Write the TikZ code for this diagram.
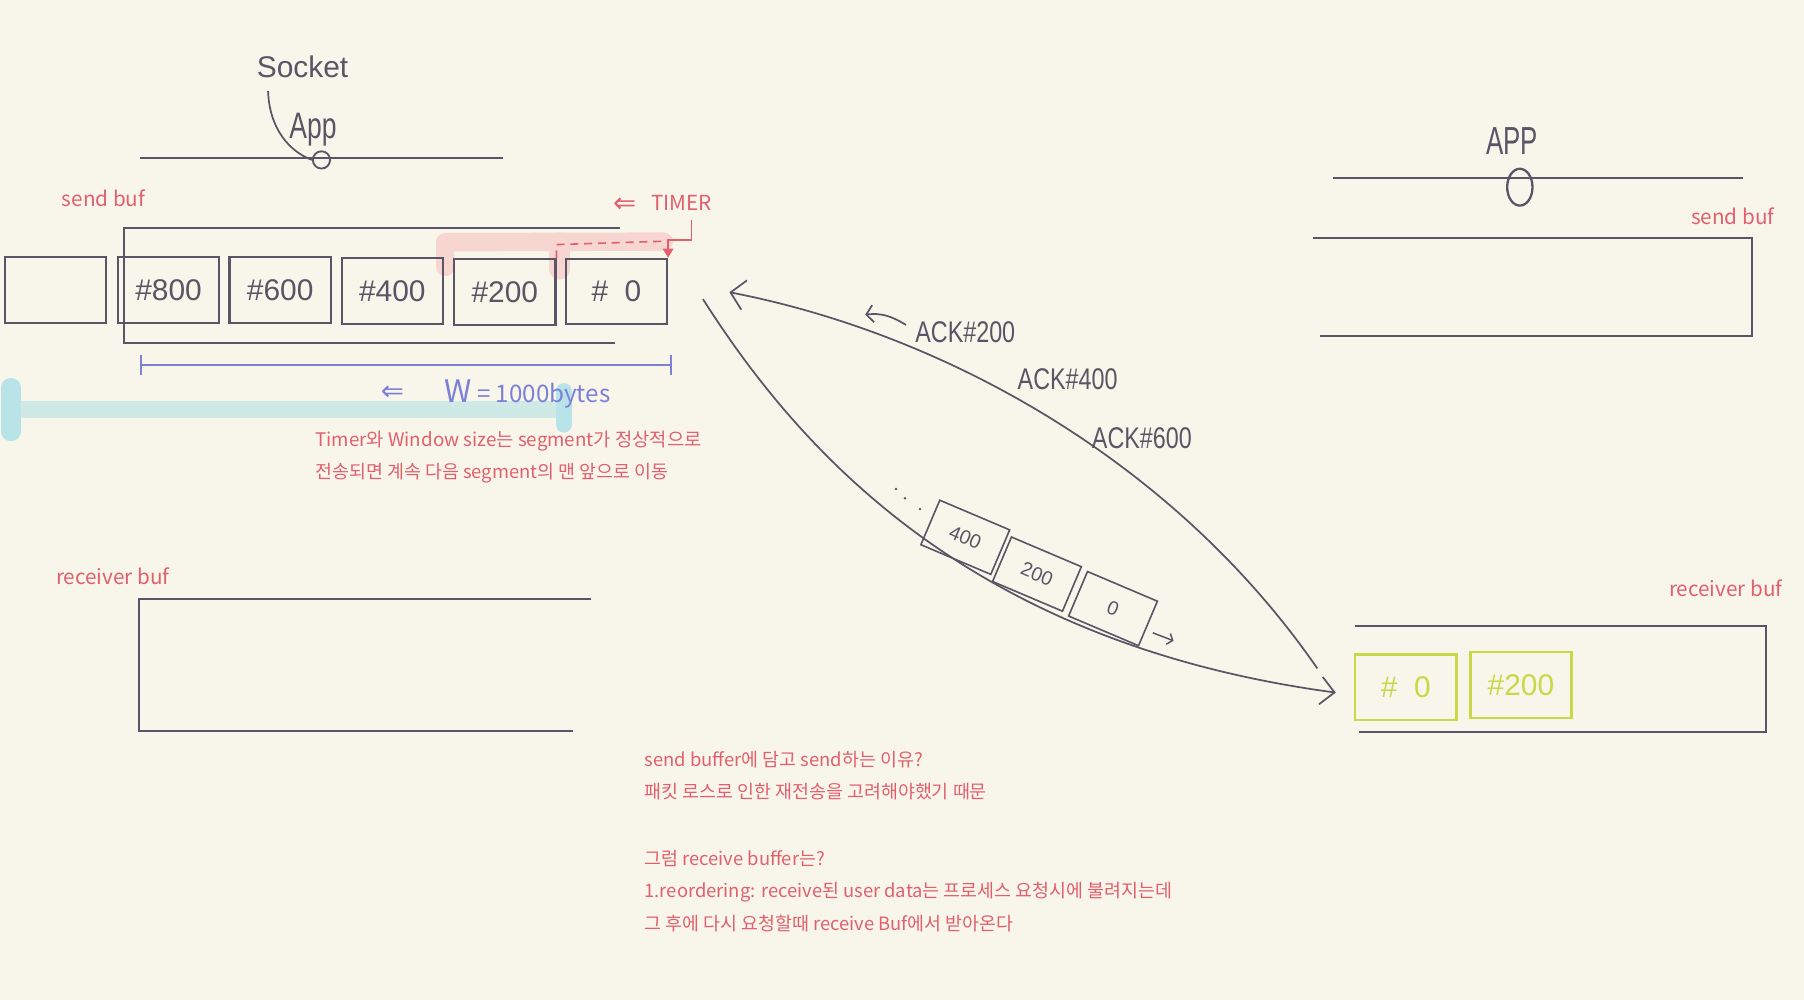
\documentclass[tikz,border=0pt]{standalone}
\usepackage{fontspec}
\setmainfont{Liberation Sans}
\newfontfamily\kr{Noto Sans CJK KR}
\newfontfamily\hand{Liberation Sans}
\newfontfamily\sym{DejaVu Sans}
\usetikzlibrary{arrows.meta,shapes.geometric}
\definecolor{bg}{HTML}{F8F6EA}
\definecolor{ink}{HTML}{5A5566}
\definecolor{rd}{HTML}{E25F6E}
\definecolor{bl}{HTML}{7C80D8}
\definecolor{gr}{HTML}{C8D848}
\definecolor{pk}{HTML}{F7D6D2}
\definecolor{cy}{HTML}{CFEAE6}
\definecolor{cyb}{HTML}{B8E3E8}
\begin{document}
\begin{tikzpicture}[x=1pt,y=-1pt,
  inkline/.style={draw=ink,line width=1.8pt},
  seg/.style={draw=ink,line width=1.8pt,minimum width=88pt,minimum height=57pt,inner sep=0pt,font=\hand\fontsize{26}{26}\selectfont,text=ink},
  gseg/.style={seg,draw=gr,text=gr,line width=2pt},
  pktbox/.style={draw=ink,line width=1.4pt},
  pktlabel/.style={inner sep=0pt,rotate=-23,font=\hand\fontsize{17}{17}\selectfont,text=ink},
  redlabel/.style={text=rd,font=\kr\fontsize{18}{18}\selectfont,inner sep=0pt},
  note/.style={text=rd,font=\kr\fontsize{16}{16}\selectfont,inner sep=0pt,anchor=west},
  acklabel/.style={text=ink,font=\hand\fontsize{26}{26}\selectfont,inner sep=0pt},
  flow/.style={draw=ink,line width=1.5pt},
]
\fill[bg] (0,0) rectangle (1568,869);
\useasboundingbox (0,0) rectangle (1568,869);

% highlights
\draw[cy, line width=15pt, line cap=round] (10,356) -- (490,356);
\draw[cyb, line width=17pt, line cap=round] (9.5,337) -- (9.5,375);
\draw[cyb, line width=14pt, line cap=round] (490,340) -- (490,369);
\draw[pk, line width=16pt, line cap=round, line join=round] (387,232) -- (387,210.5) -- (577,210);
\draw[pk, line width=18pt, line cap=round] (486.5,211) -- (486.5,234);

% left app
\node[acklabel] (socket) at (263,58) {Socket};
\node[acklabel, font=\hand\fontsize{32}{32}\selectfont] (lapp) at (272,113) {\scalebox{0.72}[1]{App}};
\draw[inkline] (122,137) -- (437,137);
\node[draw=ink, line width=1.6pt, circle, minimum size=15pt, inner sep=0pt] (lcirc) at (279.4,139) {};
\coordinate (sockTail) at (233,79);
\draw[flow] (sockTail) .. controls (234,112) and (252,132) .. (lcirc.west);

% send buffer (left)
\node[redlabel] (sbl) at (90,172) {send buf};
\draw[inkline] (538.6,198.5) -- (107.9,198.5) -- (107.9,298.4) -- (534.6,298.4);
\node[seg] (sempty) at (48.5,252) {};
\node[seg] (s800) at (146.5,252.2) {\#800};
\node[seg] (s600) at (243.5,252.2) {\#600};
\node[seg] (s400) at (341,253) {\#400};
\node[seg] (s200) at (438.8,254) {\#200};
\node[seg] (szero) at (535.8,253.5) {\#\ \ 0};

% timer
\node[text=rd, font=\sym\fontsize{24}{24}\selectfont, inner sep=0pt] (tarr) at (543,178) {⇐};
\node[redlabel] (timer) at (592.5,176) {TIMER};
\coordinate (tdrop) at (601,191);
\draw[rd, line width=1.6pt, -{Triangle[length=8pt,width=9pt]}] (tdrop) -- ++(0,17.6) -| (szero.north east);
\draw[rd, line width=1.4pt, dash pattern=on 7pt off 5pt] (s200.north east) -- ++(0,-12) -- ++(95,-3);

% window
\coordinate (wl) at (121.9,317.3);
\coordinate (wr) at (584.3,317.3);
\draw[bl, line width=1.6pt, {Bar[width=17pt]}-{Bar[width=17pt]}] (wl) -- (wr);
\node[text=bl, font=\sym\fontsize{24}{24}\selectfont, inner sep=0pt] (warr) at (341,342) {⇐};
\node[text=bl, font=\kr\fontsize{21}{21}\selectfont, inner sep=0pt, anchor=west] (wlab) at (386,342) {{\fontsize{27}{27}\selectfont W} = 1000bytes};

\node[note, font=\kr\fontsize{16.3}{16.3}\selectfont] (n1) at (274,383) {Timer와 Window size는 segment가 정상적으로};
\node[note, font=\kr\fontsize{16}{16}\selectfont] (n2) at (274,411.5) {전송되면 계속 다음 segment의 맨 앞으로 이동};

% receiver buffer (left)
\node[redlabel] (rbl) at (98,501) {receiver buf};
\draw[inkline] (513.8,520.6) -- (121,520.6) -- (121,635.4) -- (497.7,635.4);

% right side
\node[acklabel, font=\hand\fontsize{34}{34}\selectfont] (rapp) at (1314.5,123) {\scalebox{0.66}[1]{APP}};
\draw[inkline] (1158.7,155) -- (1515,155);
\node[draw=ink, line width=2pt, ellipse, minimum width=22pt, minimum height=32pt, inner sep=0pt] (rcirc) at (1321,162.7) {};
\node[redlabel] (sbr) at (1506,188) {send buf};
\draw[inkline] (1141.5,206.6) -- (1523,206.6) -- (1523,292) -- (1147.3,292);
\node[redlabel] (rbr) at (1500,511) {receiver buf};
\draw[inkline] (1177.7,543.8) -- (1534.7,543.8) -- (1534.7,636) -- (1181.5,636);
\node[gseg] (g0) at (1222,597.3) {\#\ \ 0};
\node[gseg] (g200) at (1322,595.4) {\#200};

% middle: data packets
\coordinate (dataStart) at (611,260);
\coordinate (dataEnd) at (1161,602);
\draw[flow, -{Straight Barb[length=12pt,width=24pt]}] (dataStart) .. controls (700,400) and (850,560) .. (dataEnd);
\begin{scope}[shift={(839,467)}, rotate=-23]
  \draw[pktbox] (-33,-21) rectangle (33,21);
\end{scope}
\begin{scope}[shift={(901.3,499)}, rotate=-23]
  \draw[pktbox] (-33,-21) rectangle (33,21);
\end{scope}
\begin{scope}[shift={(967.4,529)}, rotate=-23]
  \draw[pktbox] (-33,-21) rectangle (33,21);
\end{scope}
\node[pktlabel] (l400) at (839,467) {400};
\node[pktlabel] (l200) at (901.3,499) {200};
\node[pktlabel] (l0) at (967.4,529) {0};
\fill[ink] (778.8,425) circle (1.2pt);
\fill[ink] (786.6,433) circle (1.2pt);
\fill[ink] (799.6,442.4) circle (1.2pt);
\coordinate (sm1) at (1002,550);
\coordinate (sm2) at (1020,557);
\draw[ink, line width=1.3pt, -{Straight Barb[length=4pt,width=10pt]}] (sm1) -- (sm2);

% ack curve
\coordinate (ackStart) at (1145,581);
\coordinate (ackEnd) at (634,254);
\draw[flow, -{Straight Barb[length=12pt,width=26pt]}] (ackStart) .. controls (1020,400) and (820,290) .. (ackEnd);
\coordinate (sa1) at (787.5,282.5);
\coordinate (sa2) at (752,273.5);
\draw[flow, -{Straight Barb[length=6pt,width=15pt]}] (sa1) .. controls (774,274) and (765,272) .. (sa2);
\node[acklabel] (ack200) at (839,289) {\scalebox{0.78}[1]{ACK\#200}};
\node[acklabel] (ack400) at (928,330) {\scalebox{0.78}[1]{ACK\#400}};
\node[acklabel] (ack600) at (992.5,381) {\scalebox{0.78}[1]{ACK\#600}};

% notes
\node[note] (b1) at (560,660) {send buffer에 담고 send하는 이유?};
\node[note] (b2) at (560,688) {패킷 로스로 인한 재전송을 고려해야했기 때문};
\node[note] (b3) at (560,746) {그럼 receive buffer는?};
\node[note] (b4) at (560,775) {1.reordering: receive된 user data는 프로세스 요청시에 불려지는데};
\node[note] (b5) at (560,802.5) {그 후에 다시 요청할때 receive Buf에서 받아온다};
\end{tikzpicture}
\end{document}
